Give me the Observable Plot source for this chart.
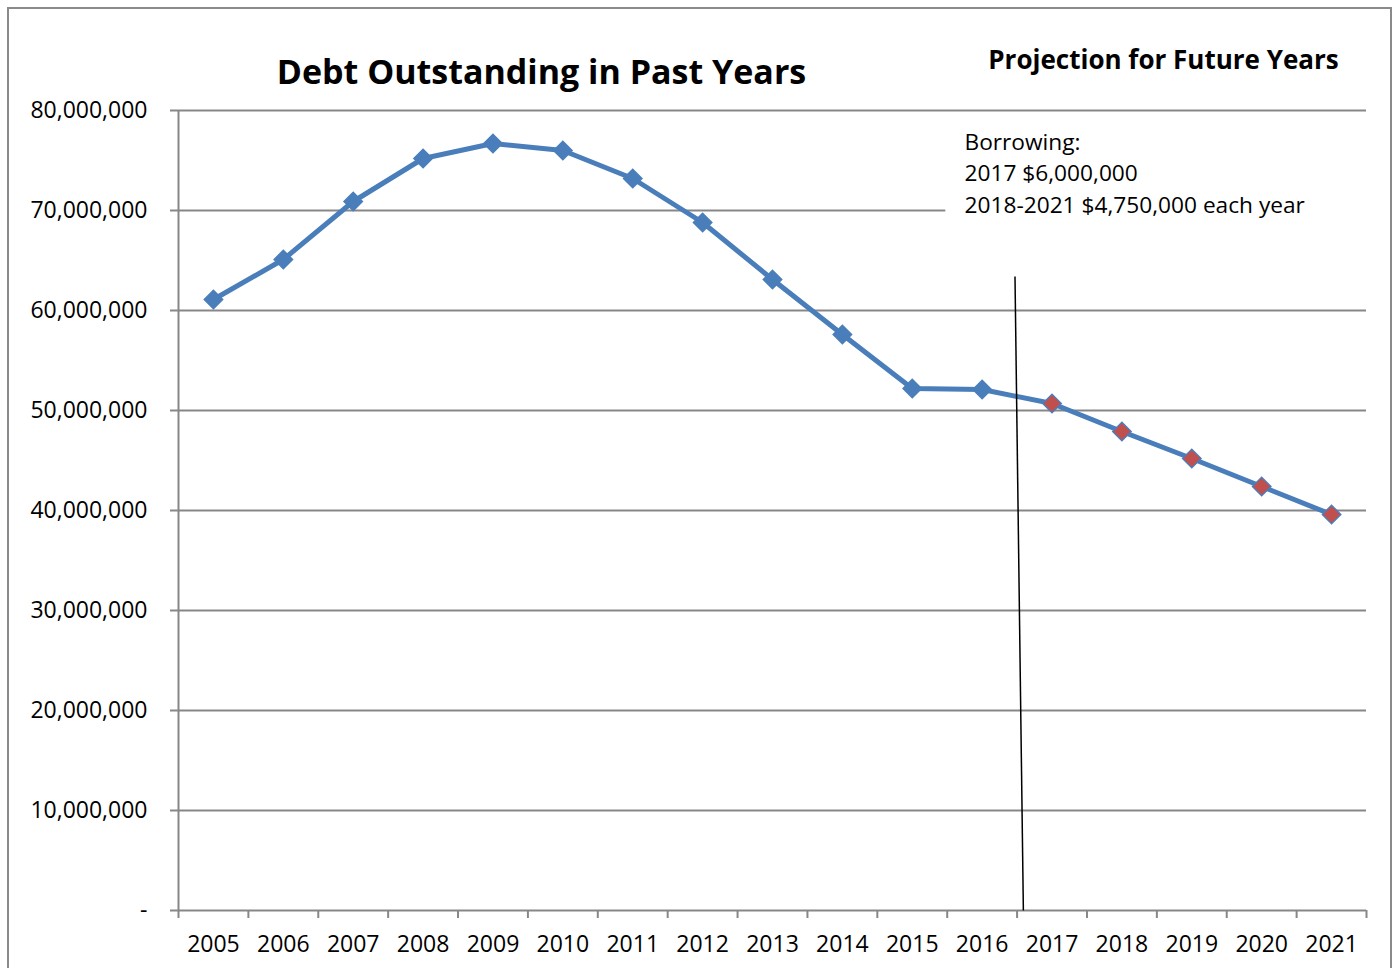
<!DOCTYPE html>
<html><head><meta charset="utf-8">
<script src="https://cdn.jsdelivr.net/npm/d3@7"></script>
<script src="https://cdn.jsdelivr.net/npm/@observablehq/plot@0.6"></script>
<style>
html,body{margin:0;padding:0;background:#fff;overflow:hidden}
#wrap{position:relative;width:1397px;height:968px}
#border{position:absolute;left:7px;top:7px;width:1381px;height:1000px;border:2px solid #8a8a8a;pointer-events:none}
</style></head><body><div id="wrap"><div id="border"></div></div>
<script>
const years = [2005, 2006, 2007, 2008, 2009, 2010, 2011, 2012, 2013, 2014, 2015, 2016, 2017, 2018, 2019, 2020, 2021];
const debt = [61.1e6, 65.1e6, 70.9e6, 75.2e6, 76.7e6, 76.0e6, 73.2e6, 68.8e6, 63.1e6, 57.6e6, 52.2e6, 52.1e6, 50.7e6, 47.9e6, 45.2e6, 42.4e6, 39.6e6];
const period = ["past","past","past","past","past","past","past","past","past","past","past","past","projection","projection","projection","projection","projection"];
const yTicks = [0, 10e6, 20e6, 30e6, 40e6, 50e6, 60e6, 70e6, 80e6];
const titleLeft = "Debt Outstanding in Past Years";
const titleRight = "Projection for Future Years";
const borrowingNote = ["Borrowing:", "2017 $6,000,000", "2018-2021 $4,750,000 each year"];
// divider line between past and projection (x as fractional year, y as value)
const dividerX = [2016.47, 2016.59];
const dividerY = [63.4e6, 0];

const rows = years.map((y, i) => ({year: y, debt: debt[i], period: period[i]}));
const xEdges = years.map(y => y - 0.5).concat([years[years.length - 1] + 0.5]);
const xDomain = [xEdges[0], xEdges[xEdges.length - 1]];

const gray = "#878787";
const blue = "#4a7ebb";
const red = "#c0504d";
const fmt = d3.format(",");

const chart = Plot.plot({
  width: 1397, height: 968,
  marginLeft: 178, marginRight: 31, marginTop: 110, marginBottom: 58,
  style: {fontFamily: "'Open Sans', sans-serif", fontSize: "23px", color: "#000", background: "white", overflow: "visible"},
  x: {type: "linear", domain: xDomain},
  y: {domain: [0, 80e6]},
  marks: [
    Plot.ruleY(yTicks, {stroke: gray, strokeWidth: 2, strokeOpacity: 1}),
    Plot.ruleX([xDomain[0]], {stroke: gray, strokeWidth: 2, strokeOpacity: 1}),
    Plot.axisY(yTicks, {tickSize: 8, tickPadding: 23, tickFormat: d => d === 0 ? "-" : fmt(d), stroke: gray, strokeWidth: 2, strokeOpacity: 1, fill: "#000", fontSize: 23, label: null}),
    Plot.axisX(xEdges, {tickSize: 8, tickFormat: () => "", stroke: gray, strokeWidth: 2, strokeOpacity: 1, label: null}),
    Plot.axisX(years, {tickSize: 0, tickPadding: 25, tickFormat: d => String(d), fill: "#000", fontSize: 23, label: null}),
    // white background of the annotation box (hides grid behind the note)
    Plot.rect([0], {x1: () => 2015.48, x2: () => xDomain[1], y1: () => 64.5e6, y2: () => 78.5e6, fill: "white"}),
    Plot.line(rows, {x: "year", y: "debt", stroke: blue, strokeWidth: 5, strokeLinejoin: "round"}),
    Plot.dot(rows, {x: "year", y: "debt", symbol: "diamond2", r: 8.4, fill: d => d.period === "past" ? blue : red, stroke: blue, strokeWidth: 1.3}),
    Plot.link([0], {x1: () => dividerX[0], x2: () => dividerX[1], y1: () => dividerY[0], y2: () => dividerY[1], stroke: "#000", strokeWidth: 1.5}),
    Plot.text([titleLeft], {frameAnchor: "top-left", dx: 541 - 178, dy: -27, text: d => d, textAnchor: "middle", lineAnchor: "bottom", fontWeight: "bold", fontSize: 34, fill: "#000"}),
    Plot.text([titleRight], {frameAnchor: "top-left", dx: 1163 - 178, dy: -42, text: d => d, textAnchor: "middle", lineAnchor: "bottom", fontWeight: "bold", fontSize: 26, fill: "#000"}),
    Plot.text([borrowingNote.join("\n")], {frameAnchor: "top-left", dx: 964 - 178, dy: 17, text: d => d, textAnchor: "start", lineAnchor: "top", lineHeight: 1.39, fontSize: 22.7, fill: "#000"})
  ]
});
document.getElementById("wrap").prepend(chart);
</script>
</body></html>
